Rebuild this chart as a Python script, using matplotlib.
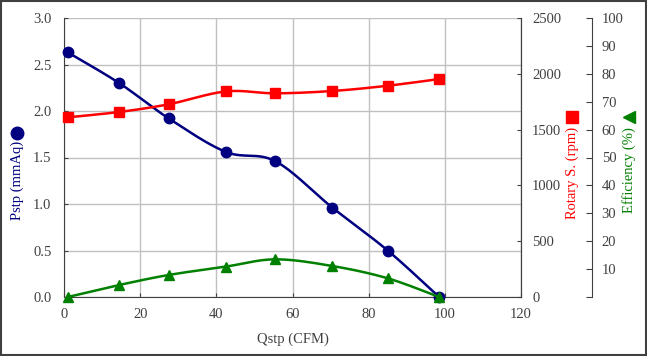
import numpy as np
import matplotlib
matplotlib.use("Agg")
import matplotlib.pyplot as plt
from matplotlib.patches import Rectangle

plt.rcParams['font.family'] = ['Liberation Serif', 'DejaVu Serif']

# Data
qstp = [1, 14.5, 27.5, 42.5, 55.5, 70.5, 85, 98.5]
pstp = [2.63, 2.30, 1.92, 1.56, 1.46, 0.96, 0.50, 0.0]
rpm = [1610, 1658, 1727, 1842, 1825, 1846, 1893, 1953]
eff = [0.0, 4.3, 7.9, 10.9, 13.5, 11.1, 6.7, 0.0]

x_ticks = [0, 20, 40, 60, 80, 100, 120]
p_ticks = [0.0, 0.5, 1.0, 1.5, 2.0, 2.5, 3.0]
r_ticks = [0, 500, 1000, 1500, 2000, 2500]
e_ticks = [0, 10, 20, 30, 40, 50, 60, 70, 80, 90, 100]

NAVY = '#000080'
RED = '#FF0000'
GREEN = '#008000'
FS = 10.5


def smooth(x, y, xr, yr, n=30):
    """Catmull-Rom style smoothing done in normalized space (drawing style)."""
    x = np.asarray(x, float) / xr
    y = np.asarray(y, float) / yr
    px = np.concatenate([[x[0]], x, [x[-1]]])
    py = np.concatenate([[y[0]], y, [y[-1]]])
    ox, oy = [], []
    t = 0.5
    for i in range(1, len(px) - 2):
        p0, p1, p2, p3 = (px[i-1], py[i-1]), (px[i], py[i]), (px[i+1], py[i+1]), (px[i+2], py[i+2])
        c1 = (p1[0] + (p2[0] - p0[0]) * t / 3, p1[1] + (p2[1] - p0[1]) * t / 3)
        c2 = (p2[0] - (p3[0] - p1[0]) * t / 3, p2[1] - (p3[1] - p1[1]) * t / 3)
        s = np.linspace(0, 1, n)
        bx = (1-s)**3*p1[0] + 3*(1-s)**2*s*c1[0] + 3*(1-s)*s**2*c2[0] + s**3*p2[0]
        by = (1-s)**3*p1[1] + 3*(1-s)**2*s*c1[1] + 3*(1-s)*s**2*c2[1] + s**3*p2[1]
        ox.extend(bx); oy.extend(by)
    return np.array(ox) * xr, np.array(oy) * yr


fig = plt.figure(figsize=(6.47, 3.56), dpi=100)
fig.patches.append(Rectangle((0.002, 0.003), 0.996, 0.994, transform=fig.transFigure,
                             fill=False, edgecolor='#404040', linewidth=1.5))

L, R, B, T = 64/647, 521/647, (356-297)/356, (356-18)/356
ax = fig.add_axes([L, B, R-L, T-B])
ax.set_xlim(0, 120)
ax.set_ylim(0, 3.0)
ax.set_xticks(x_ticks)
ax.set_yticks(p_ticks)
ax.set_yticklabels([f"{v:.1f}" for v in p_ticks])
ax.grid(True, color='#c0c0c0', linewidth=1.0)
ax.set_axisbelow(True)
ax.tick_params(direction='in', length=3, labelsize=FS, colors='#404040', labelcolor='#404040')
ax.tick_params(axis='y', pad=9)
ax.tick_params(axis='x', pad=8)
for s in ax.spines.values():
    s.set_color('#404040')
ax.spines['top'].set_visible(False)
ax.set_xlabel('Qstp (CFM)', fontsize=FS, color='#404040', labelpad=8)

ax2 = ax.twinx()
ax2.set_ylim(0, 2500)
ax2.set_yticks(r_ticks)
ax2.tick_params(direction='in', length=3, labelsize=FS, labelcolor='#404040', colors='#404040', pad=8)
for s in ax2.spines.values():
    s.set_visible(False)
ax2.spines['right'].set_visible(True)
ax2.spines['right'].set_color('#404040')

ax3 = ax.twinx()
ax3.set_ylim(0, 100)
ax3.set_yticks(e_ticks)
ax3.set_yticklabels([''] + [str(v) for v in e_ticks[1:]])
ax3.spines['right'].set_position(('axes', (592-64)/457))
for s in ['top', 'left', 'bottom']:
    ax3.spines[s].set_visible(False)
ax3.spines['right'].set_color('#404040')
ax3.tick_params(direction='in', length=4, labelsize=FS, labelcolor='#404040', colors='#404040', pad=7)

# Lines
sx, sy = smooth(qstp, pstp, 120, 3.0)
ax.plot(sx, sy, color=NAVY, lw=1.8, zorder=3, clip_on=False)
ax.plot(qstp, pstp, 'o', color=NAVY, ms=7.5, zorder=4, clip_on=False)

sx, sy = smooth(qstp, rpm, 120, 2500)
ax2.plot(sx, sy, color=RED, lw=1.8, zorder=3, clip_on=False)
ax2.plot(qstp, rpm, 's', color=RED, ms=7.5, zorder=4, clip_on=False)

sx, sy = smooth(qstp, eff, 120, 100)
ax3.plot(sx, sy, color=GREEN, lw=1.8, zorder=3, clip_on=False)
ax3.plot(qstp, eff, '^', color=GREEN, ms=7.5, zorder=4, clip_on=False)

# Axis titles with legend markers
def fy(py):
    return (356 - py) / 356

fig.text(17/647, fy(180), 'Pstp (mmAq)', rotation=90, color=NAVY, fontsize=FS,
         ha='center', va='center')
fig.lines.append(plt.Line2D([17/647], [fy(133)], marker='o', color=NAVY, ms=9,
                            transform=fig.transFigure))
fig.text(572/647, fy(173), 'Rotary S. (rpm)', rotation=90, color=RED, fontsize=FS,
         ha='center', va='center')
fig.lines.append(plt.Line2D([572/647], [fy(117)], marker='s', color=RED, ms=9,
                            transform=fig.transFigure))
fig.text(629/647, fy(170), 'Efficiency (%)', rotation=90, color=GREEN, fontsize=FS,
         ha='center', va='center')
fig.lines.append(plt.Line2D([629/647], [fy(117)], marker='<', color=GREEN, ms=9,
                            transform=fig.transFigure))

fig.savefig('out.png', dpi=100)
